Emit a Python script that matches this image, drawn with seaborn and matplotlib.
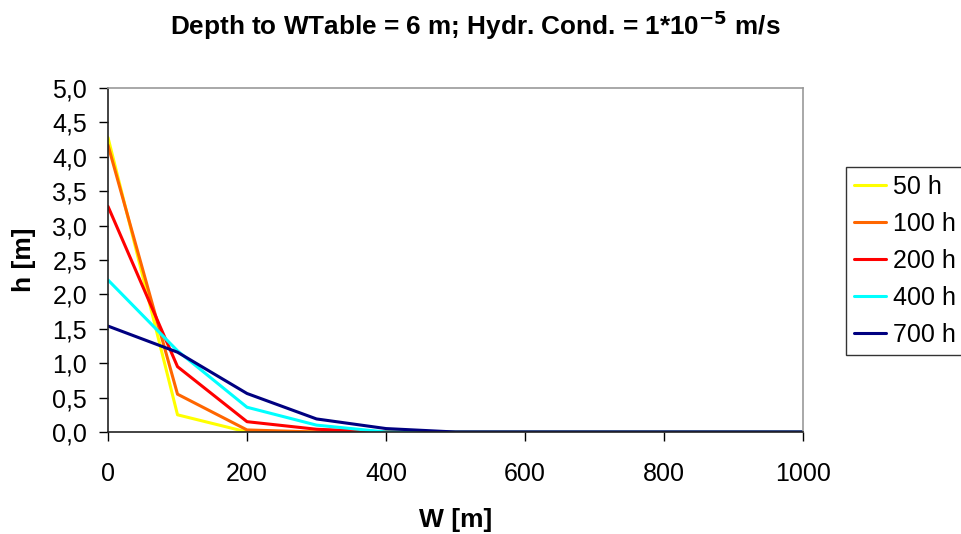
import matplotlib
matplotlib.use("Agg")
import matplotlib.pyplot as plt
import seaborn as sns
import pandas as pd
from matplotlib.ticker import FuncFormatter, MultipleLocator
from matplotlib.lines import Line2D

W = [0, 100, 200, 300, 400, 500, 600, 700, 800, 900, 1000]
h_50 = [4.28, 0.25, 0.0, 0.0, 0.0, 0.0, 0.0, 0.0, 0.0, 0.0, 0.0]
h_100 = [4.17, 0.55, 0.03, 0.0, 0.0, 0.0, 0.0, 0.0, 0.0, 0.0, 0.0]
h_200 = [3.28, 0.95, 0.15, 0.04, 0.0, 0.0, 0.0, 0.0, 0.0, 0.0, 0.0]
h_400 = [2.21, 1.18, 0.36, 0.10, 0.0, 0.0, 0.0, 0.0, 0.0, 0.0, 0.0]
h_700 = [1.54, 1.16, 0.56, 0.19, 0.05, 0.0, 0.0, 0.0, 0.0, 0.0, 0.0]
series_names = ["50 h", "100 h", "200 h", "400 h", "700 h"]
colors = ["#FFFF00", "#FF6600", "#FF0000", "#00FFFF", "#000080"]

rows = []
for name, vals in zip(series_names, [h_50, h_100, h_200, h_400, h_700]):
    for w, v in zip(W, vals):
        rows.append({"W": w, "h": v, "series": name})
df = pd.DataFrame(rows)

sns.set_style("white")
plt.rcParams["font.family"] = ["Liberation Sans", "DejaVu Sans"]
plt.rcParams["mathtext.default"] = "bf"
plt.rcParams["text.color"] = "black"
plt.rcParams["axes.labelcolor"] = "black"

fig = plt.figure(figsize=(9.61, 5.34), dpi=100)
ax = fig.add_axes([0.1124, 0.191, 0.7232, 0.644])

sns.lineplot(data=df, x="W", y="h", hue="series", hue_order=series_names,
             palette=colors, linewidth=2.2, ax=ax, legend=False)

ax.set_xlim(0, 1000)
ax.set_ylim(0, 5)
ax.xaxis.set_major_locator(MultipleLocator(200))
ax.yaxis.set_major_locator(MultipleLocator(0.5))
ax.yaxis.set_major_formatter(FuncFormatter(lambda v, p: f"{v:.1f}".replace(".", ",")))
ax.tick_params(axis="both", direction="out", length=6.5, width=1, labelsize=18,
               colors="black", left=True, bottom=True)
ax.tick_params(axis="x", pad=15)
ax.tick_params(axis="y", pad=8.5)

for s in ["left", "bottom"]:
    ax.spines[s].set_color("#222222")
    ax.spines[s].set_linewidth(1.2)
for s in ["top", "right"]:
    ax.spines[s].set_color("#999999")
    ax.spines[s].set_linewidth(1.2)

ax.set_xlabel("W [m]", fontsize=19, fontweight="bold", labelpad=16, color="black")
ax.set_ylabel("h [m]", fontsize=19, fontweight="bold", labelpad=12, color="black")

fig.suptitle(r"Depth to WTable = 6 m; Hydr. Cond. = 1*10$^{\mathbf{-5}}$ m/s",
             x=0.495, y=0.985, fontsize=18.8, fontweight="bold", color="black")

handles = [Line2D([0], [0], color=c, linewidth=2.2) for c in colors]
leg = fig.legend(handles, series_names, loc="upper left",
                 bbox_to_anchor=(846 / 961, 1 - 167 / 534),
                 frameon=True, fancybox=False, fontsize=18,
                 handlelength=1.28, handletextpad=0.28, labelspacing=0.52,
                 borderpad=0.32, borderaxespad=0)
leg.get_frame().set_edgecolor("black")
leg.get_frame().set_linewidth(1.0)
for t in leg.get_texts():
    t.set_color("black")

fig.savefig("out.png", dpi=100)
